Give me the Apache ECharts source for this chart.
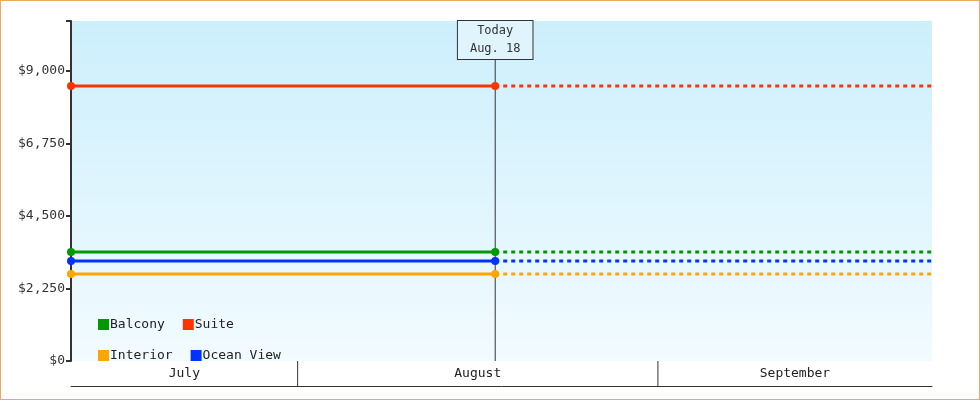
<!DOCTYPE html>
<html><head><meta charset="utf-8">
<script src="https://cdn.jsdelivr.net/npm/echarts@6/dist/echarts.min.js"></script>
<style>html,body{margin:0;padding:0;background:#fff}#c{width:978px;height:398px;border:1px solid #f0a860}</style>
</head><body><div id="c"></div>
<script>
const seriesNames = ['Balcony','Suite','Interior','Ocean View'];
const seriesColors = ['#009900','#ff3300','#ffa500','#0033ff'];
const seriesValues = [3380, 8530, 2700, 3100];
const startDate = '2024-07-12T12:00:00';
const todayDate = '2024-08-18T00:00:00';
const endDate = '2024-09-24T14:00:00';
const months = [['2024-07-01','2024-08-01','July'],['2024-08-01','2024-09-01','August'],['2024-09-01','2024-10-01','September']];
const yTicks = [0,2250,4500,6750,9000];
const yMax = 10550;
const font = 'DejaVu Sans Mono';

const tMin = +new Date(startDate), tMax = +new Date(endDate);
const series = [];
seriesNames.forEach((n,i)=>{
  series.push({name:n,type:'line',xAxisIndex:0,yAxisIndex:0,data:[[startDate,seriesValues[i]],[todayDate,seriesValues[i]]],
    color:seriesColors[i],lineStyle:{width:3},symbol:'circle',symbolSize:8,showSymbol:true,z:5,animation:false});
  series.push({name:n+' (proj)',type:'line',xAxisIndex:0,yAxisIndex:0,data:[[todayDate,seriesValues[i]],[endDate,seriesValues[i]]],
    color:seriesColors[i],lineStyle:{width:3,type:[4,4]},symbol:'none',z:4,animation:false});
});
series.push({type:'line',name:'today',xAxisIndex:0,yAxisIndex:0,data:[[todayDate,0],[todayDate,yMax]],symbol:'none',
  lineStyle:{color:'#333',width:1},z:3,animation:false,
  markPoint:{symbolSize:0,data:[{coord:[todayDate,yMax],label:{show:true,formatter:'Today\nAug. 18',position:'bottom',distance:0,
   fontFamily:font,fontSize:12,color:'#333',lineHeight:18,backgroundColor:'#dff4fc',borderColor:'#333',borderWidth:1,padding:[1,12,1,12]}}]}});
series.push({type:'custom',xAxisIndex:1,yAxisIndex:1,animation:false,clip:true,
  data:months.map(m=>[+new Date(m[0]),+new Date(m[1]),m[2]]),
  renderItem:function(params,api){
    const s=Math.max(api.value(0),tMin), e=Math.min(api.value(1),tMax);
    const p0=api.coord([s,0]), p1=api.coord([e,0]);
    const top=params.coordSys.y, h=params.coordSys.height;
    const children=[{type:'text',style:{text:months[params.dataIndex][2],x:(p0[0]+p1[0])/2,y:top+h/2,align:'center',verticalAlign:'middle',font:'13px '+font,fill:'#222'}}];
    if(api.value(0)>tMin) children.push({type:'line',shape:{x1:p0[0],y1:top,x2:p0[0],y2:top+h},style:{stroke:'#333',lineWidth:1}});
    return {type:'group',children};
  }});

const chart = echarts.init(document.getElementById('c'));
chart.setOption({
  animation:false,
  grid:[{left:70,right:47,top:20,bottom:38,show:true,borderWidth:0,
    backgroundColor:new echarts.graphic.LinearGradient(0,0,0,1,[{offset:0,color:'#cceffc'},{offset:1,color:'#f2fbff'}])},
    {left:70,right:47,top:360,height:25}],
  legend:{data:seriesNames,left:92,top:312,width:200,itemWidth:11,itemHeight:11,itemGap:18,icon:'rect',
    textStyle:{fontFamily:font,fontSize:13,color:'#222',padding:[0,0,0,-4]},selectedMode:false},
  xAxis:[{type:'time',gridIndex:0,min:tMin,max:tMax,axisLine:{show:false},axisTick:{show:false},axisLabel:{show:false},splitLine:{show:false}},
    {type:'time',gridIndex:1,min:tMin,max:tMax,position:'bottom',axisLine:{show:true,lineStyle:{color:'#333'}},axisTick:{show:false},axisLabel:{show:false},splitLine:{show:false}}],
  yAxis:[{type:'value',gridIndex:0,min:0,max:yMax,interval:2250,
    axisLine:{show:true,lineStyle:{color:'#333',width:2}},axisTick:{show:true,length:5,lineStyle:{color:'#333',width:2}},
    axisLabel:{fontFamily:font,fontSize:13,color:'#333',margin:6,formatter:v=>yTicks.includes(v)?'$'+v.toLocaleString('en-US'):''},splitLine:{show:false}},
    {type:'value',gridIndex:1,min:0,max:1,show:false}],
  series
});
</script></body></html>
